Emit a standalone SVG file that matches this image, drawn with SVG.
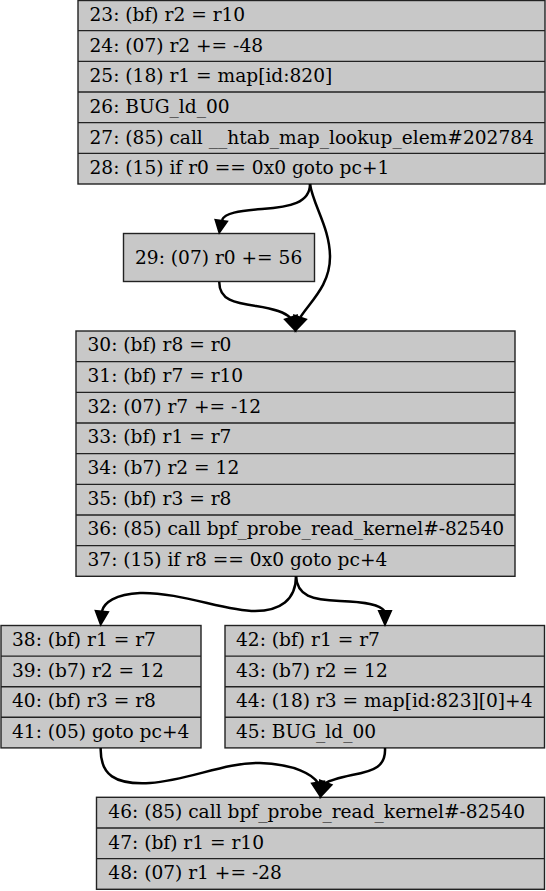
<svg xmlns="http://www.w3.org/2000/svg" width="546" height="891" viewBox="0 0 546 891">
<style>
.box{fill:#c8c8c8;stroke:#222;stroke-width:1.4}
.sep{stroke:#222;stroke-width:1.4}
text{font-family:"DejaVu Serif","Liberation Serif",serif;font-size:18.6px;fill:#000}
.edge{fill:none;stroke:#000;stroke-width:2.5}
.head{fill:#000;stroke:#000;stroke-width:2;stroke-linejoin:miter}
</style>
<rect width="546" height="891" fill="#fff"/>
<g id="node_23">
<rect class="box" x="78" y="0.5" width="467" height="183.5"/>
<line class="sep" x1="78" y1="30.67" x2="545" y2="30.67"/>
<line class="sep" x1="78" y1="61.33" x2="545" y2="61.33"/>
<line class="sep" x1="78" y1="92" x2="545" y2="92"/>
<line class="sep" x1="78" y1="122.67" x2="545" y2="122.67"/>
<line class="sep" x1="78" y1="153.33" x2="545" y2="153.33"/>
<text x="89.5" y="21">23: (bf) r2 = r10</text>
<text x="89.5" y="51.5">24: (07) r2 += -48</text>
<text x="89.5" y="82.2">25: (18) r1 = map[id:820]</text>
<text x="89.5" y="112.9">26: BUG_ld_00</text>
<text x="89.5" y="143.5">27: (85) call __htab_map_lookup_elem#202784</text>
<text x="89.5" y="174.2">28: (15) if r0 == 0x0 goto pc+1</text>
</g>
<g id="node_29">
<rect class="box" x="123.5" y="233.5" width="191" height="48"/>
<text x="135" y="263.5">29: (07) r0 += 56</text>
</g>
<g id="node_30">
<rect class="box" x="76" y="331" width="439" height="245.3"/>
<line class="sep" x1="76" y1="361.67" x2="515" y2="361.67"/>
<line class="sep" x1="76" y1="392.33" x2="515" y2="392.33"/>
<line class="sep" x1="76" y1="423" x2="515" y2="423"/>
<line class="sep" x1="76" y1="453.67" x2="515" y2="453.67"/>
<line class="sep" x1="76" y1="484.33" x2="515" y2="484.33"/>
<line class="sep" x1="76" y1="515" x2="515" y2="515"/>
<line class="sep" x1="76" y1="545.67" x2="515" y2="545.67"/>
<text x="87.5" y="351.3">30: (bf) r8 = r0</text>
<text x="87.5" y="382">31: (bf) r7 = r10</text>
<text x="87.5" y="412.7">32: (07) r7 += -12</text>
<text x="87.5" y="443.3">33: (bf) r1 = r7</text>
<text x="87.5" y="474">34: (b7) r2 = 12</text>
<text x="87.5" y="504.7">35: (bf) r3 = r8</text>
<text x="87.5" y="535.3">36: (85) call bpf_probe_read_kernel#-82540</text>
<text x="87.5" y="566">37: (15) if r8 == 0x0 goto pc+4</text>
</g>
<g id="node_38">
<rect class="box" x="1" y="625.5" width="200" height="122.4"/>
<line class="sep" x1="1" y1="656.1" x2="201" y2="656.1"/>
<line class="sep" x1="1" y1="686.7" x2="201" y2="686.7"/>
<line class="sep" x1="1" y1="717.3" x2="201" y2="717.3"/>
<text x="12" y="646">38: (bf) r1 = r7</text>
<text x="12" y="676.6">39: (b7) r2 = 12</text>
<text x="12" y="707.2">40: (bf) r3 = r8</text>
<text x="12" y="737.8">41: (05) goto pc+4</text>
</g>
<g id="node_42">
<rect class="box" x="225" y="625.5" width="319.5" height="122.4"/>
<line class="sep" x1="225" y1="656.1" x2="544.5" y2="656.1"/>
<line class="sep" x1="225" y1="686.7" x2="544.5" y2="686.7"/>
<line class="sep" x1="225" y1="717.3" x2="544.5" y2="717.3"/>
<text x="236" y="646">42: (bf) r1 = r7</text>
<text x="236" y="676.6">43: (b7) r2 = 12</text>
<text x="236" y="707.2">44: (18) r3 = map[id:823][0]+4</text>
<text x="236" y="737.8">45: BUG_ld_00</text>
</g>
<g id="node_46">
<rect class="box" x="96.5" y="797.3" width="448" height="92"/>
<line class="sep" x1="96.5" y1="828" x2="544.5" y2="828"/>
<line class="sep" x1="96.5" y1="858.6" x2="544.5" y2="858.6"/>
<text x="108.3" y="817.8">46: (85) call bpf_probe_read_kernel#-82540</text>
<text x="108.3" y="848.5">47: (bf) r1 = r10</text>
<text x="108.3" y="879.1">48: (07) r1 += -28</text>
</g>
<g id="edges">
<path class="edge" d="M310,184 C310,203 290,207 262,209 C238,211 225,213 222,220"/>
<polygon class="head" points="219.3,232.5 215.5,220 227,221.5"/>
<path class="edge" d="M310,184 C313,205 330,228 330,257 C330,285 311,301 300.5,317"/>
<polygon class="head" points="295.5,330.5 294.2,315.5 306,319.5"/>
<path class="edge" d="M219.3,282 C219,300 235,303 256,306 C275,309 285,312 290.5,318"/>
<polygon class="head" points="295.5,330.5 285,319.5 296.8,315.5"/>
<path class="edge" d="M296,576 C296,600 280,611 255,611 C225,611 180,592 140,593 C115,594 104,603 102,611"/>
<polygon class="head" points="100.7,624.5 95.7,610.8 108,612"/>
<path class="edge" d="M296,576 C297,596 312,600 340,601 C368,602 380,605 384.5,611"/>
<polygon class="head" points="385,624.5 379,611 391,611"/>
<path class="edge" d="M100.7,748 C100,775 115,785 150,783 C190,780 225,762 260,763 C295,764 313,775 318,783"/>
<polygon class="head" points="320.5,796.5 312,783.5 324,781.5"/>
<path class="edge" d="M385,748 C386,766 375,771 352,775 C338,778 330,780 326,783"/>
<polygon class="head" points="320.5,796.5 320,780.5 331.5,785"/>
</g>
</svg>
